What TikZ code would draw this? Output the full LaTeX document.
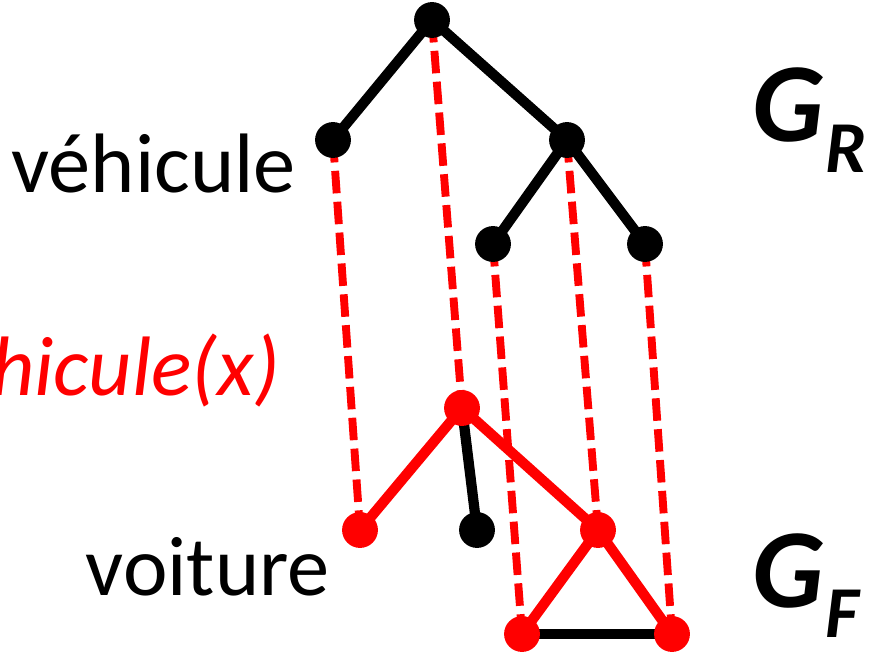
\documentclass[tikz,border=0pt]{standalone}
\usepackage{fontspec}
\setmainfont{Carlito}
\usepackage{tikz}
\usetikzlibrary{positioning,backgrounds}

\newcommand{\graphname}[2]{#1\kern1pt\raisebox{-22pt}{\fontsize{52}{52}\selectfont #2}}

\begin{document}
\begin{tikzpicture}[
  x=0.025cm, y=-0.025cm,
  blk/.style={circle,fill=black,inner sep=0pt,minimum size=25.5pt},
  rd/.style={circle,fill=red,inner sep=0pt,minimum size=25.5pt},
  edge/.style={line width=7.3pt},
  redge/.style={line width=7.3pt,red},
  link/.style={line width=5.6pt,red,dash pattern=on 16pt off 6pt},
  lbl/.style={font=\fontsize{60}{60}\selectfont,inner sep=0pt},
  gname/.style={font=\fontsize{80}{80}\selectfont\bfseries\itshape,inner sep=0pt,anchor=base west}
]
\useasboundingbox (0,0) rectangle (883,663);
% G_R
\node[blk] (r) at (432,20) {};
\node[blk] (veh) at (333,140) {};
\node[blk] (m) at (567,140) {};
\node[blk] (ml) at (493,244) {};
\node[blk] (mr) at (645,244) {};
% G_F
\node[rd] (f) at (462,408) {};
\node[rd] (voit) at (360,530) {};
\node[blk] (fb) at (477,530) {};
\node[rd] (fm) at (598,530) {};
\node[rd] (fl) at (522,634) {};
\node[rd] (fr) at (672,634) {};
\begin{scope}[on background layer]
% links
\draw[link] (r.center) -- (f.center);
\draw[link] (veh.center) -- (voit.center);
\draw[link] (m.center) -- (fm.center);
\draw[link] (ml.center) -- (fl.center);
\draw[link] (mr.center) -- (fr.center);
% edges
\draw[edge] (r.center) -- (veh.center);
\draw[edge] (r.center) -- (m.center);
\draw[edge] (m.center) -- (ml.center);
\draw[edge] (m.center) -- (mr.center);
\draw[edge] (f.center) -- (fb.center);
\draw[edge] (fl.center) -- (fr.center);
\draw[redge] (f.center) -- (voit.center);
\draw[redge] (f.center) -- (fm.center);
\draw[redge] (fm.center) -- (fl.center);
\draw[redge] (fm.center) -- (fr.center);
\end{scope}
% labels
\node[lbl,anchor=base east] (tveh) at (296,193) {véhicule};
\node[lbl,anchor=base east,text=red,font=\fontsize{60}{60}\selectfont\itshape] (tpred) at (280,395) {véhicule(x)};
\node[lbl,anchor=base east] (tvoit) at (330,595) {voiture};
\node[gname] (gr) at (752,142) {\graphname{G}{R}};
\node[gname] (gf) at (752,607) {\graphname{G}{F}};
\end{tikzpicture}
\end{document}
